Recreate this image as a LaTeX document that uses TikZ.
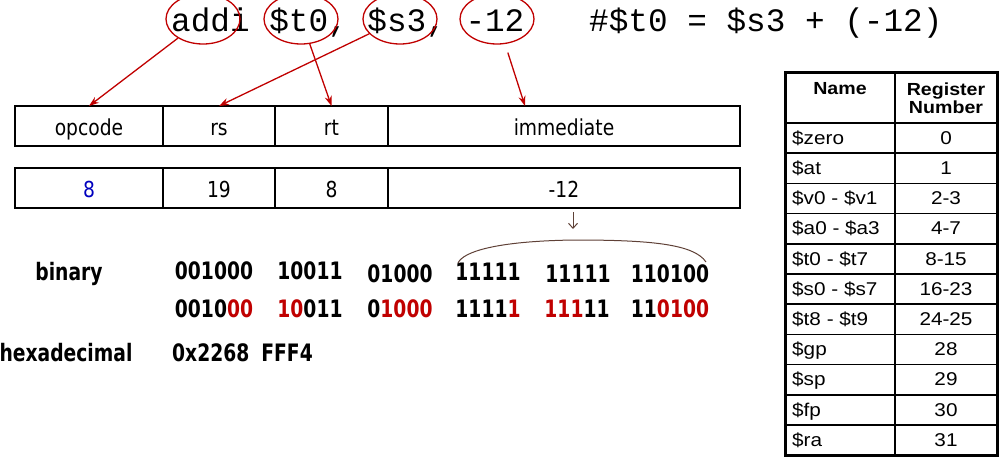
\documentclass[tikz,border=0pt]{standalone}
\usepackage{fontspec}
\usepackage{tikz}
\usetikzlibrary{shapes.geometric, arrows.meta, positioning}
\setmainfont{Liberation Sans}
\newfontfamily\codefont{Liberation Mono}
\newfontfamily\fieldfont[FakeStretch=0.85]{DejaVu Sans}
\newfontfamily\binfont[FakeStretch=0.78]{DejaVu Sans}
\newfontfamily\tabfont[FakeStretch=1.12]{Liberation Sans}
\definecolor{rosso}{RGB}{192,0,0}
\definecolor{blu}{RGB}{0,0,190}
\definecolor{marrone}{RGB}{95,65,55}
\tikzset{
    code/.style={inner sep=0pt, anchor=base west, font=\codefont\frenchspacing\fontsize{32.7}{36}\selectfont},
    token/.style={draw=rosso, ellipse, line width=1.3pt, minimum width=74pt, minimum height=50pt, inner sep=0pt},
    field/.style={draw, rectangle, line width=1.5pt, inner sep=0pt, outer sep=0pt, minimum height=40pt, text height=20pt, text depth=2pt, font=\fieldfont\fontsize{22}{26}\selectfont},
    bits/.style={inner sep=0pt, text height=1.4ex, text depth=0pt, font=\binfont\bfseries\fontsize{24}{28}\selectfont},
    regname/.style={anchor=west, inner sep=0pt, text height=13pt, text depth=3pt, font=\tabfont\fontsize{18.5}{20}\selectfont},
    regnum/.style={inner sep=0pt, text height=13pt, text depth=3pt, font=\tabfont\fontsize{18.5}{20}\selectfont},
    reghead/.style={inner sep=0pt, align=center, font=\tabfont\bfseries\fontsize{17.5}{18}\selectfont},
    arrow/.style={->, >={Stealth[length=10pt,width=7pt]}, line width=1.3pt, draw=rosso},
    hand/.style={line width=1pt, draw=marrone}
}
\begin{document}
\begin{tikzpicture}[x=1pt, y=-1pt, node distance=0pt and 0pt]
        \useasboundingbox (0,0) rectangle (1008,461);

        % Istruzione e commento
        \node (instr) [code] at (171,31) {addi \$t0, \$s3, -12};
        \node (comm) [code] at (589,31) {\#\$t0 = \$s3 + (-12)};

        % Cerchi sugli operandi
        \node (eop) [token] at (203,19) {};
        \node (ert) [token] at (301,19) {};
        \node (ers) [token] at (400,19) {};
        \node (eimm) [token] at (497,19) {};

        % Campi del formato I
        \node (opcode) [field, minimum width=148pt, anchor=north west] at (15,106) {opcode};
        \node (rs) [field, minimum width=112pt, right=of opcode] {rs};
        \node (rt) [field, minimum width=113pt, right=of rs] {rt};
        \node (imm) [field, minimum width=352pt, right=of rt] {immediate};

        % Valori dei campi
        \node (vop) [field, minimum width=148pt, below=22pt of opcode] {\textcolor{blu}{8}};
        \node (vrs) [field, minimum width=112pt, right=of vop] {19};
        \node (vrt) [field, minimum width=113pt, right=of vrs] {8};
        \node (vimm) [field, minimum width=352pt, right=of vrt] {-12};

        % Frecce dagli operandi ai campi
        \coordinate (immtip) at (525,106);
        \draw [arrow] (eop) -- (opcode.north);
        \draw [arrow] (ert) -- (rt.north);
        \draw [arrow] (ers) -- (rs.north);
        \draw [arrow, shorten <=9pt] (eimm) -- (immtip);

        % Codifica binaria
        \node (lbin) [bits] at (69,277) {binary};
        \node (b1) [bits] at (214,276) {001000};
        \node (b2) [bits] at (310,276) {10011};
        \node (b3) [bits] at (400,279) {01000};
        \node (b4) [bits] at (488,277) {11111};
        \node (b5) [bits] at (578,279) {11111};
        \node (b6) [bits] at (670,279) {110100};

        \node (c1) [bits] at (214,314) {0010\textcolor{rosso}{00}};
        \node (c2) [bits] at (310,314) {\textcolor{rosso}{10}011};
        \node (c3) [bits] at (400,314) {0\textcolor{rosso}{1000}};
        \node (c4) [bits] at (488,314) {1111\textcolor{rosso}{1}};
        \node (c5) [bits] at (577,314) {\textcolor{rosso}{111}11};
        \node (c6) [bits] at (670,314) {11\textcolor{rosso}{0100}};

        \node (lhex) [bits] at (66,358) {hexadecimal};
        \node (hex) [bits, anchor=west] at (172,358) {0x2268\hspace{12pt}FFF4};

        % Graffa e freccia a mano
        \draw [hand] (458,263) .. controls (463,252) and (495,241) .. (575,240) .. controls (650,240) and (694,244) .. (706,262);
        \coordinate (giu) at (573,229);
        \draw [hand, -{Straight Barb[length=5pt,width=9pt]}] ([xshift=9pt, yshift=-4pt]vimm.south) -- (giu);

        % Tabella dei registri
        \draw [line width=1.5pt] (895,72) -- (895,455);
        \draw [line width=1.5pt] (785,123) -- (997,123);
        \node (hname) [reghead] at (840,89) {Name};
        \node (hnum) [reghead] at (946,98) {Register\\Number};
        \foreach \nome/\num [count=\i] in {\$zero/0, \$at/1, \$v0 - \$v1/2-3, \$a0 - \$a3/4-7, \$t0 - \$t7/8-15, \$s0 - \$s7/16-23, \$t8 - \$t9/24-25, \$gp/28, \$sp/29, \$fp/30, \$ra/31}{
            \node (nome\i) [regname] at (792,{123+30.2*\i-14}) {\nome};
            \node (num\i) [regnum] at (946,{123+30.2*\i-14}) {\num};
            \draw [line width=1.5pt] (785,{123+30.2*\i}) -- (997,{123+30.2*\i});
        }
        \draw [line width=3pt] (785,72) rectangle (997,455);

    \end{tikzpicture}
\end{document}
